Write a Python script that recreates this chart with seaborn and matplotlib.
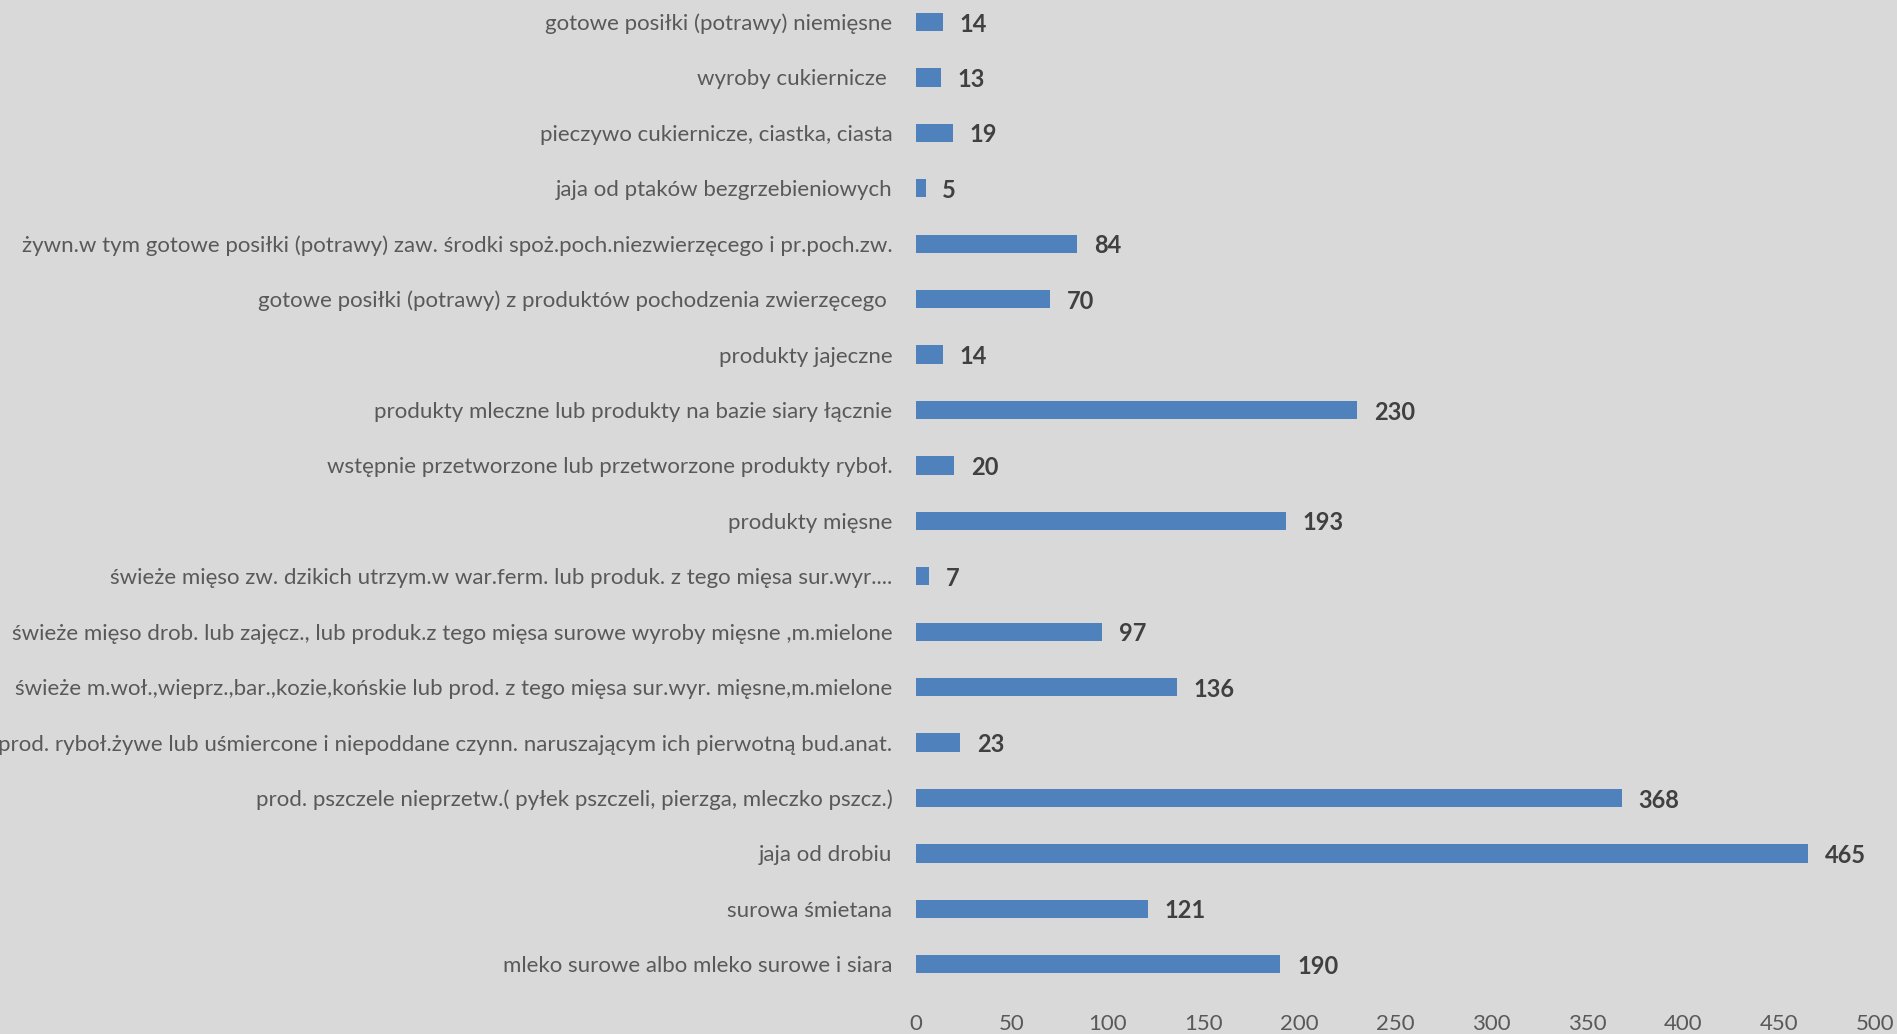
import matplotlib
matplotlib.use("Agg")
import matplotlib.pyplot as plt
import seaborn as sns
import pandas as pd

# categories listed top to bottom, as in the picture
categories = [
    "gotowe posiłki (potrawy) niemięsne",
    "wyroby cukiernicze ",
    "pieczywo cukiernicze, ciastka, ciasta",
    "jaja od ptaków bezgrzebieniowych",
    "żywn.w tym gotowe posiłki (potrawy) zaw. środki spoż.poch.niezwierzęcego i pr.poch.zw.",
    "gotowe posiłki (potrawy) z produktów pochodzenia zwierzęcego ",
    "produkty jajeczne",
    "produkty mleczne lub produkty na bazie siary łącznie",
    "wstępnie przetworzone lub przetworzone produkty ryboł.",
    "produkty mięsne",
    "świeże mięso zw. dzikich utrzym.w war.ferm. lub produk. z tego mięsa sur.wyr....",
    "świeże mięso drob. lub zajęcz., lub produk.z tego mięsa surowe wyroby mięsne ,m.mielone",
    "świeże m.woł.,wieprz.,bar.,kozie,końskie lub prod. z tego mięsa sur.wyr. mięsne,m.mielone",
    "prod. ryboł.żywe lub uśmiercone i niepoddane czynn. naruszającym ich pierwotną bud.anat.",
    "prod. pszczele nieprzetw.( pyłek pszczeli, pierzga, mleczko pszcz.)",
    "jaja od drobiu",
    "surowa śmietana",
    "mleko surowe albo mleko surowe i siara",
]
values = [14, 13, 19, 5, 84, 70, 14, 230, 20, 193, 7, 97, 136, 23, 368, 465, 121, 190]
x_ticks = [0, 50, 100, 150, 200, 250, 300, 350, 400, 450, 500]

df = pd.DataFrame({"kategoria": categories, "liczba": values})

bg = "#D9D9D9"
sns.set_style("white")
plt.rcParams["font.family"] = ["Lato", "DejaVu Sans"]

fig = plt.figure(figsize=(18.97, 10.34), dpi=100, facecolor=bg)
ax = fig.add_axes([0.4829, 0.0406, 0.5055, 0.9649])
ax.set_facecolor(bg)

sns.barplot(data=df, x="liczba", y="kategoria", color="#4F81BD",
            width=0.33, saturation=1, linewidth=0, ax=ax)

for t in ax.bar_label(ax.containers[0], padding=12, fontsize=17,
                      fontweight="bold", color="#404040"):
    t.set_va("center_baseline")

ax.set_xlim(0, 500)
ax.set_xticks(x_ticks)
ax.set_xlabel("")
ax.set_ylabel("")
ax.tick_params(axis="x", length=0, labelsize=16, labelcolor="#595959", pad=16)
ax.tick_params(axis="y", length=0, labelsize=16, labelcolor="#595959", pad=17)
for s in ax.spines.values():
    s.set_visible(False)

fig.savefig("out.png", dpi=100, facecolor=bg)
